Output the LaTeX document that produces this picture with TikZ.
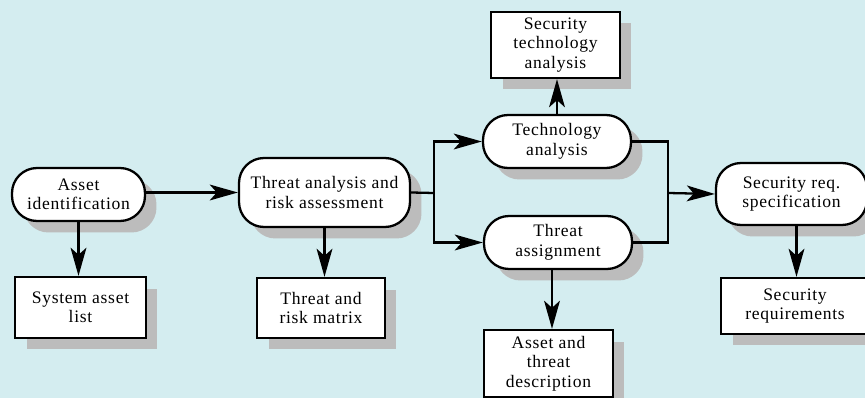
\documentclass[tikz,border=0pt]{standalone}
\usepackage{fontspec}
\setmainfont{Liberation Serif}[LetterSpace=4]
\usetikzlibrary{arrows.meta,shadows}
\definecolor{bgcyan}{RGB}{212,237,240}
\definecolor{shadowgray}{RGB}{188,188,188}
\begin{document}
\begin{tikzpicture}[
		x=0.02cm,y=-0.02cm,
		every node/.style={draw,fill=white,line width=1.3pt,align=center,inner sep=0pt,
			font=\fontsize{10}{11.1}\selectfont,
			drop shadow={shadow xshift=0.23cm,shadow yshift=-0.23cm,fill=shadowgray,opacity=1}},
		process/.style={rounded corners=0.5cm},
		doc/.style={},
		flow/.style={line width=1.3pt,-{Stealth[length=16pt,width=9pt,inset=4pt]}},
		wire/.style={line width=1.3pt}
		]
		\clip (0,0) rectangle (865,398);
		\fill[bgcyan] (0,0) rectangle (865,398);
		\node[process,minimum width=2.66cm,minimum height=1.06cm] (asset) at (78.5,194.5) {Asset\\identification};
		\node[process,minimum width=3.42cm,minimum height=1.38cm] (threat) at (324.5,192.5) {Threat analysis and\\risk assessment};
		\node[process,minimum width=2.96cm,minimum height=1.06cm] (tech) at (557,141.5) {Technology\\analysis};
		\node[process,minimum width=2.96cm,minimum height=1.06cm] (assign) at (558,242.5) {Threat\\assignment};
		\node[process,minimum width=3.02cm,minimum height=1.24cm] (spec) at (791.5,194) {Security req.\\specification};
		\node[doc,minimum width=2.62cm,minimum height=1.22cm] (syslist) at (80.5,307.5) {System asset\\list};
		\node[doc,minimum width=2.56cm,minimum height=1.20cm] (matrix) at (321,308) {Threat and\\risk matrix};
		\node[doc,minimum width=2.58cm,minimum height=1.32cm] (sectech) at (555.5,45) {Security\\technology\\analysis};
		\node[doc,minimum width=2.58cm,minimum height=1.34cm] (desc) at (548.5,363.5) {Asset and\\threat\\description};
		\node[doc,minimum width=2.96cm,minimum height=1.12cm] (req) at (795,306) {Security\\requirements};
		\coordinate (split) at (434,193);
		\coordinate (join) at (668,193);
		\draw[flow] (asset.south) -- (asset.south |- syslist.north);
		\draw[flow] (asset.east |- threat.west) -- (threat.west);
		\draw[flow] (threat.south) -- (threat.south |- matrix.north);
		\draw[wire] (threat.east) -- (split);
		\draw[flow] (split) |- (tech.west);
		\draw[flow] (split) |- (assign.west);
		\draw[flow] (tech.north) -- (tech.north |- sectech.south);
		\draw[flow] ([xshift=-0.12cm]assign.south) -- ([xshift=-0.12cm]assign.south |- desc.north);
		\draw[wire] (tech.east) -| (join);
		\draw[wire] (assign.east) -| (join);
		\draw[flow] (join) -- (spec.west);
		\draw[flow] ([xshift=0.1cm]spec.south) -- ([xshift=0.1cm]spec.south |- req.north);
	\end{tikzpicture}
\end{document}
